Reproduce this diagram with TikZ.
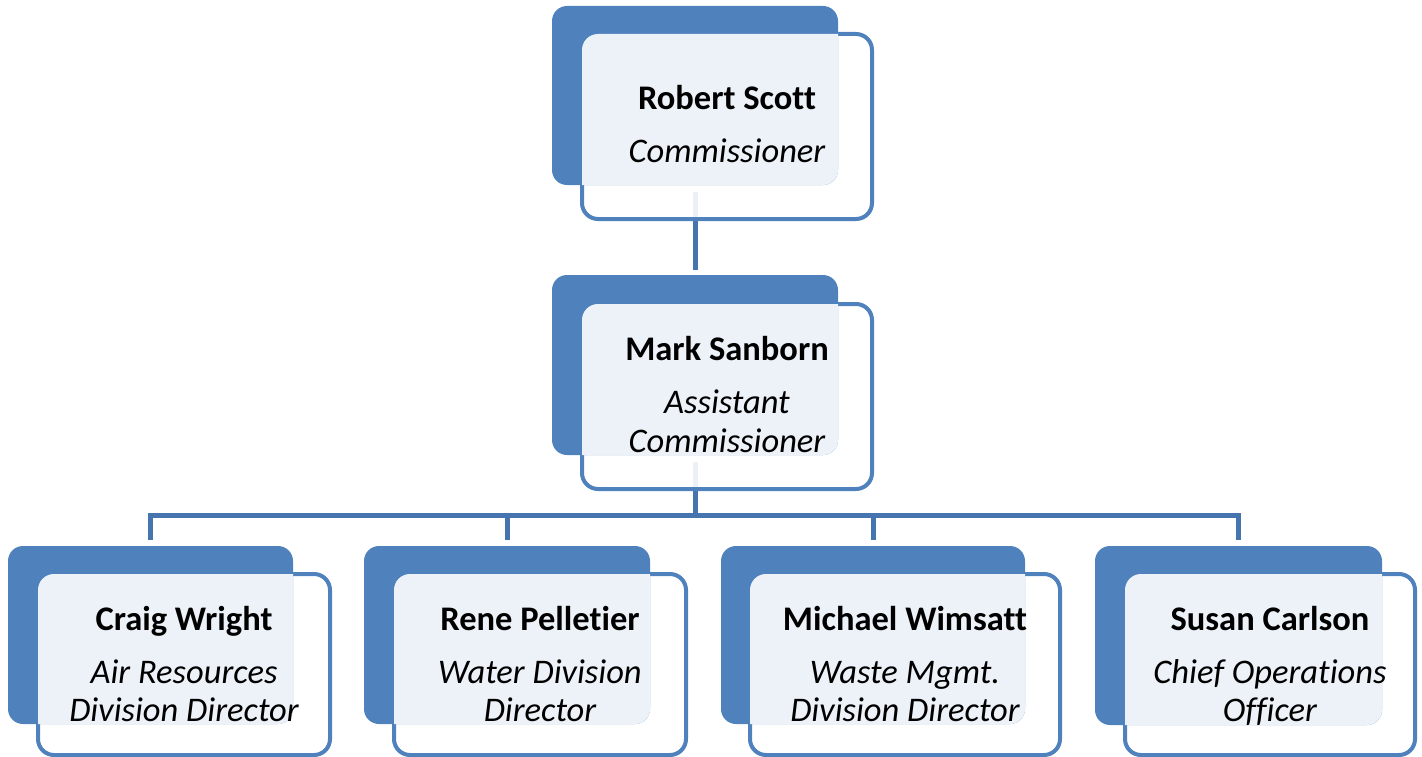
\documentclass[tikz,border=0pt]{standalone}
\usepackage{fontspec}
\setmainfont[Ligatures=NoCommon]{Carlito}
\definecolor{boxblue}{HTML}{4F81BD}
\definecolor{linkblue}{HTML}{4674AE}
\tikzset{
  slot/.style={shape=rectangle, inner sep=0pt, outer sep=0pt, anchor=north west},
  conn/.style={draw=linkblue, line width=5pt, line join=miter},
  person/.style={font=\bfseries\fontsize{34.5}{41}\selectfont, inner sep=0pt, anchor=base},
  role/.style={font=\itshape\fontsize{34.5}{41}\selectfont, inner sep=0pt, anchor=base},
}
% a solid back card with a pale, outlined card laid over it
\newcommand\cardpair[2]{%
  \path[fill=white, fill opacity=0.9, draw=boxblue, line width=4pt, rounded corners=16pt]
    (#2.north west) rectangle (#2.south east);
  \fill[boxblue, rounded corners=15pt] (#1.north west) rectangle (#1.south east);
  \begin{scope}
    \clip[rounded corners=15pt] (#1.north west) rectangle (#1.south east);
    \fill[white, fill opacity=0.9, rounded corners=16pt] (#2.north west) rectangle (#2.south east);
  \end{scope}}
\begin{document}
\begin{tikzpicture}[x=1pt, y=-1pt]
\useasboundingbox (0,0) rectangle (1422,757);

% card outlines (back card b, front card f)
\node[slot, minimum width=286, minimum height=179] (rb) at (552,6) {};
\node[slot, minimum width=290, minimum height=185] (rf) at (582,34) {};
\node[slot, minimum width=286, minimum height=180] (mb) at (552,275) {};
\node[slot, minimum width=290, minimum height=185] (mf) at (582,304) {};
\node[slot, minimum width=285, minimum height=178] (cb) at (8,546) {};
\node[slot, minimum width=292, minimum height=181] (cf) at (38,574) {};
\node[slot, minimum width=286, minimum height=178] (pb) at (364,546) {};
\node[slot, minimum width=292, minimum height=181] (pf) at (394,574) {};
\node[slot, minimum width=304, minimum height=178] (wb) at (721,546) {};
\node[slot, minimum width=310, minimum height=181] (wf) at (750,574) {};
\node[slot, minimum width=287, minimum height=179] (sb) at (1095,546) {};
\node[slot, minimum width=290, minimum height=181] (sf) at (1125,574) {};

\coordinate (bus) at (mb.south |- 0,515);

% reporting lines
\draw[conn] ([yshift=-7pt]rb.south) -- ([yshift=5pt]mb.north);
\draw[conn] ([yshift=-7pt]mb.south) -- (bus);
\draw[conn] ([yshift=6pt]cb.north) |- (bus) -| ([yshift=6pt]sb.north);
\draw[conn] ([yshift=6pt]pb.north) -- (pb.north |- bus);
\draw[conn] ([yshift=6pt]wb.north) -- (wb.north |- bus);

% cards
\cardpair{rb}{rf}
\cardpair{mb}{mf}
\cardpair{cb}{cf}
\cardpair{pb}{pf}
\cardpair{wb}{wf}
\cardpair{sb}{sf}

% names and roles
\node[person] (rn) at ([yshift=-76pt]rf.north) {Robert Scott};
\node[role] (rt) at ([yshift=-129pt]rf.north) {Commissioner};

\node[person] (mn) at ([yshift=-56pt]mf.north) {Mark Sanborn};
\node[role] (mt1) at ([yshift=-109pt]mf.north) {Assistant};
\node[role] (mt2) at ([yshift=-148pt]mf.north) {Commissioner};

\node[person] (cn) at ([yshift=-56pt]cf.north) {Craig Wright};
\node[role] (ct1) at ([yshift=-109pt]cf.north) {Air Resources};
\node[role] (ct2) at ([yshift=-147pt]cf.north) {Division Director};

\node[person] (pn) at ([yshift=-56pt]pf.north) {Rene Pelletier};
\node[role] (pt1) at ([yshift=-109pt]pf.north) {Water Division};
\node[role] (pt2) at ([yshift=-147pt]pf.north) {Director};

\node[person] (wn) at ([yshift=-56pt]wf.north) {Michael Wimsatt};
\node[role] (wt1) at ([yshift=-109pt]wf.north) {Waste Mgmt.};
\node[role] (wt2) at ([yshift=-147pt]wf.north) {Division Director};

\node[person] (sn) at ([yshift=-56pt]sf.north) {Susan Carlson};
\node[role] (st1) at ([yshift=-109pt]sf.north) {Chief Operations};
\node[role] (st2) at ([yshift=-147pt]sf.north) {Officer};
\end{tikzpicture}
\end{document}
